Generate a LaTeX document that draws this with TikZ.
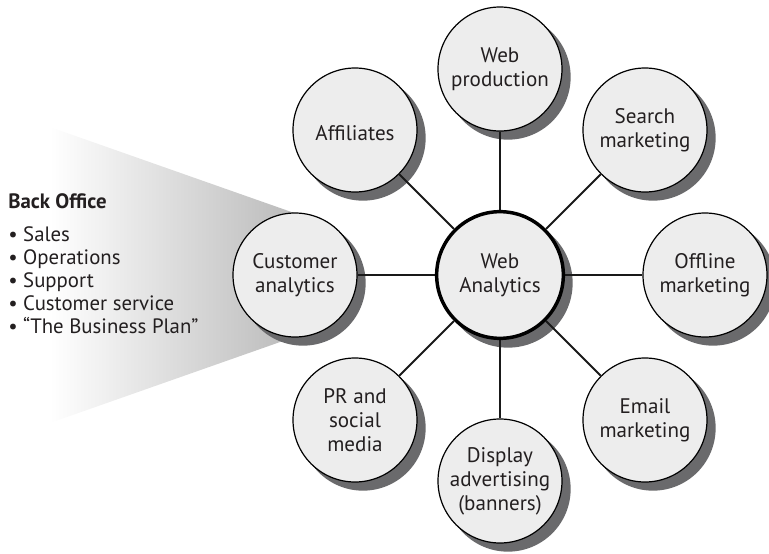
\documentclass[tikz,border=0pt]{standalone}
\usepackage{fontspec}
\setmainfont{PT Sans}
\usetikzlibrary{calc}
\pgfdeclarelayer{bg}
\pgfdeclarelayer{shad}
\pgfdeclarelayer{spk}
\pgfsetlayers{bg,shad,spk,main}
\definecolor{fillc}{HTML}{EDEDED}
\definecolor{shadc}{HTML}{6A6A6C}
\definecolor{txt}{HTML}{231F20}
\begin{document}
\begin{tikzpicture}[x=0.75pt,y=-0.75pt,
  hub/.style={circle, draw=black, fill=fillc, line width=0.9pt, minimum size=93pt,
    inner sep=0pt, align=center, font=\fontsize{15.8}{18}\selectfont, text=txt,
    execute at begin node=\rule{0pt}{15.5pt}},
  hubc/.style={hub, line width=2.6pt, minimum size=95pt},
  spoke/.style={line width=1.5pt, draw=black!90},
  shadowfill/.style={fill=shadc},
  listtext/.style={align=left, inner sep=0pt, text=txt, font=\fontsize{15.6}{17.25}\selectfont}]
\useasboundingbox (0,0) rectangle (769,554);

\node[hubc] (wa) at (500,275) {Web\\Analytics};
\node[hub] (wp) at (500,69) {Web\\production};
\node[hub] (sm) at (645,130) {Search\\marketing};
\node[hub] (om) at (705,275) {Offline\\marketing};
\node[hub] (em) at (645,420) {Email\\marketing};
\node[hub] (da) at (500,481) {Display\\advertising\\(banners)};
\node[hub] (pr) at (355,420) {PR and\\social\\media};
\node[hub] (ca) at (295,275) {Customer\\analytics};
\node[hub] (af) at (355,130) {Affiliates};

\node[listtext, anchor=base west] (bo) at (8,333)
  {\textbf{Back Office}\\[7pt]
   • Sales\\
   • Operations\\
   • Support\\
   • Customer service\\
   • “The Business Plan”};

\begin{pgfonlayer}{bg}
  \shade[left color=white, right color=gray!55]
    (50,127) -- (300,215) -- (300,335) -- (50,423) -- cycle;
\end{pgfonlayer}

\begin{pgfonlayer}{shad}
  \foreach \n in {wp,sm,om,em,da,pr,ca,af}
    \fill[shadowfill] ([shift={(8,8)}]\n.center) circle[radius=47pt];
  \fill[shadowfill] ([shift={(8,8)}]wa.center) circle[radius=48.5pt];
\end{pgfonlayer}

\begin{pgfonlayer}{spk}
  \foreach \n in {wp,sm,om,em,da,pr,ca,af}
    \draw[spoke] (wa) -- (\n);
\end{pgfonlayer}
\end{tikzpicture}
\end{document}
